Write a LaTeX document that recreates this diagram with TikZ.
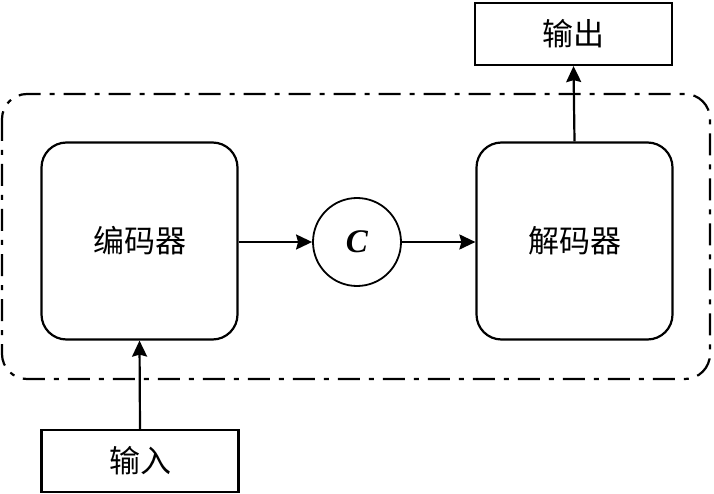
\documentclass[tikz,border=0pt]{standalone}
\usepackage{fontspec}
\newfontfamily\cjk{Noto Sans CJK SC}
\newfontfamily\tnr{Liberation Serif}
\usetikzlibrary{arrows.meta}
\begin{document}
\begin{tikzpicture}[x=1pt,y=-1pt,
  box/.style={draw,line width=2.2pt,minimum width=197pt,minimum height=62pt,inner sep=0pt,font=\cjk\fontsize{31}{36}\selectfont},
  rbox/.style={draw,line width=2.2pt,rounded corners=25pt,minimum width=196pt,minimum height=197pt,inner sep=0pt,font=\cjk\fontsize{31}{36}\selectfont},
  arr/.style={line width=2.2pt,-{Stealth[length=16pt,width=15pt,inset=2pt]}},
  frame/.style={line width=2.2pt,rounded corners=25pt,dash pattern=on 22pt off 9pt on 5pt off 9pt}]
\useasboundingbox (0,0) rectangle (714,494);
\draw[frame] (2,94) rectangle (710,379);
\node[rbox] (enc) at (139.5,241) {编码器};
\node[rbox] (dec) at (574.5,241) {解码器};
\node[draw,circle,line width=1.8pt,minimum size=88pt,inner sep=0pt,font=\tnr\bfseries\itshape\fontsize{33}{38}\selectfont] (c) at (357,242) {C};
\node[box] (out) at (573.5,34) {输出};
\node[box] (in) at (140,461) {输入};
\draw[arr] (enc.east |- c) -- (c.west);
\draw[arr] (c.east) -- (dec.west |- c);
\draw[arr] (dec.north) -- (out.south);
\draw[arr] (in.north) -- (enc.south);
\end{tikzpicture}
\end{document}
